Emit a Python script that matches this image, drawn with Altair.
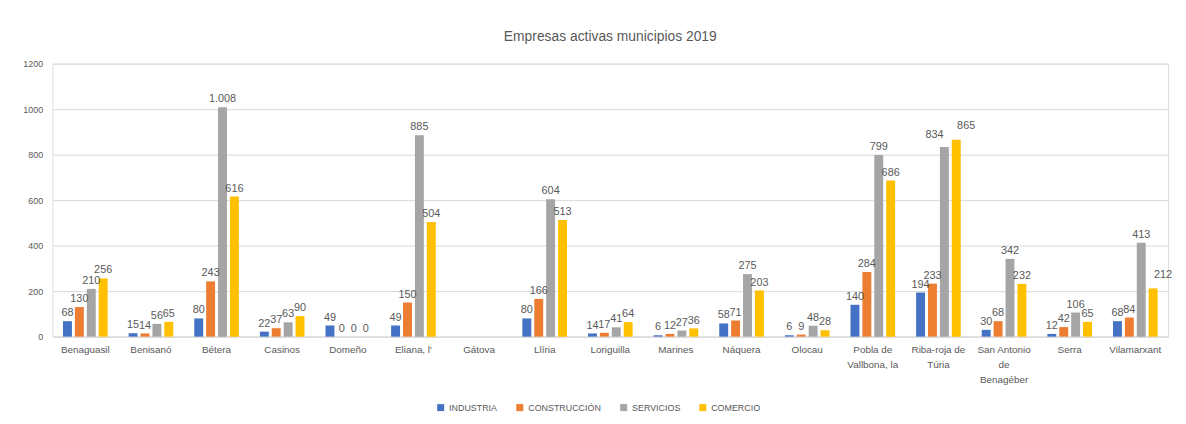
import altair as alt
import pandas as pd

municipios = ["Benaguasil", "Benisanó", "Bétera", "Casinos", "Domeño", "Eliana, l'",
              "Gátova", "Llíria", "Loriguilla", "Marines", "Náquera", "Olocau",
              "Pobla de Vallbona, la", "Riba-roja de Túria", "San Antonio de Benagéber",
              "Serra", "Vilamarxant"]
industria =    [68, 15, 80, 22, 49, 49, None, 80, 14, 6, 58, 6, 140, 194, 30, 12, 68]
construccion = [130, 14, 243, 37, 0, 150, None, 166, 17, 12, 71, 9, 284, 233, 68, 42, 84]
servicios =    [210, 56, 1008, 63, 0, 885, None, 604, 41, 27, 275, 48, 799, 834, 342, 106, 413]
comercio =     [256, 65, 616, 90, 0, 504, None, 513, 64, 36, 203, 28, 686, 865, 232, 65, 212]
sectores = ["INDUSTRIA", "CONSTRUCCIÓN", "SERVICIOS", "COMERCIO"]
colores = ["#4472C4", "#ED7D31", "#A5A5A5", "#FFC000"]
y_ticks = [0, 200, 400, 600, 800, 1000, 1200]

rows = []
for serie, vals in zip(sectores, [industria, construccion, servicios, comercio]):
    for m, v in zip(municipios, vals):
        if v is not None:
            rows.append({"municipio": m, "sector": serie, "valor": v,
                         "etiqueta": f"{v:,}".replace(",", ".")})
df = pd.DataFrame(rows)

font = "Liberation Sans"
label_expr = ("datum.label == 'Pobla de Vallbona, la' ? ['Pobla de', 'Vallbona, la'] : "
              "datum.label == 'Riba-roja de Túria' ? ['Riba-roja de', 'Túria'] : "
              "datum.label == 'San Antonio de Benagéber' ? ['San Antonio', 'de', 'Benagéber'] : datum.label")

x = alt.X("municipio:N", sort=municipios,
          scale=alt.Scale(domain=municipios, paddingInner=0.32, paddingOuter=0.16),
          axis=alt.Axis(title=None, labelAngle=0, ticks=False, domainColor="#D9D9D9",
                        labelColor="#595959", labelFontSize=10, labelPadding=8,
                        labelExpr=label_expr, labelLineHeight=15))
xo = alt.XOffset("sector:N", sort=sectores, scale=alt.Scale(domain=sectores, paddingInner=0.25))
y = alt.Y("valor:Q", scale=alt.Scale(domain=[0, 1200], nice=False),
          axis=alt.Axis(title=None, values=y_ticks, format="d", ticks=False, domain=False,
                        gridColor="#D9D9D9", labelColor="#595959", labelFontSize=9,
                        labelPadding=10, minExtent=30, maxExtent=30))
color = alt.Color("sector:N", sort=sectores,
                  scale=alt.Scale(domain=sectores, range=colores),
                  legend=alt.Legend(title=None, orient="none", direction="horizontal",
                                    legendX=388, legendY=343,
                                    symbolType="square", symbolSize=50, labelFontSize=9,
                                    labelColor="#595959", columnPadding=18))

special_left = "datum.municipio == 'Riba-roja de Túria' && datum.sector == 'SERVICIOS'"
special_right = ("(datum.municipio == 'Riba-roja de Túria' && datum.sector == 'COMERCIO') || "
                 "(datum.municipio == 'Vilamarxant' && datum.sector == 'COMERCIO')")
normal = f"!({special_left}) && !({special_right})"

base = alt.Chart(df)
bars = base.mark_bar().encode(x=x, xOffset=xo, y=y, color=color)
labels = base.transform_filter(normal).mark_text(
    dy=-8, fontSize=11, color="#595959", font=font).encode(x=x, xOffset=xo, y=y, text="etiqueta:N")
labels_l = base.transform_filter(special_left).mark_text(
    dx=-10, dy=-12, fontSize=11, color="#595959", font=font).encode(x=x, xOffset=xo, y=y, text="etiqueta:N")
labels_r = base.transform_filter(special_right).mark_text(
    dx=10, dy=-14, fontSize=11, color="#595959", font=font).encode(x=x, xOffset=xo, y=y, text="etiqueta:N")

chart = alt.layer(bars, labels, labels_l, labels_r).properties(
    width=1128, height=276,
    title=alt.TitleParams("Empresas activas municipios 2019", fontSize=14, color="#595959",
                          font=font, fontWeight="normal", anchor="middle", offset=16),
    padding={"left": 14, "top": 20, "right": 5, "bottom": 5},
).configure_view(stroke=None).configure(font=font)

chart.save("out.html", embed_options={"renderer": "svg", "actions": False})
